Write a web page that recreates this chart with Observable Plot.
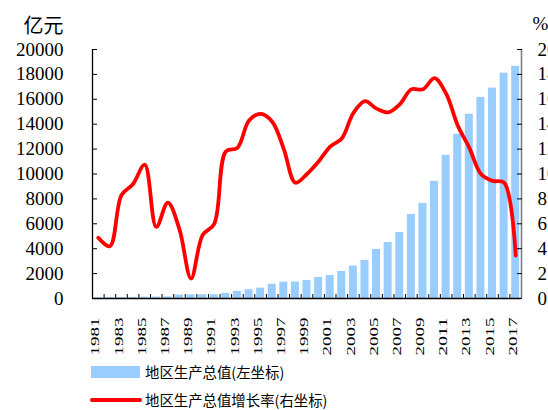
<!DOCTYPE html>
<html><head><meta charset="utf-8">
<script src="https://cdn.jsdelivr.net/npm/d3@7"></script>
<script src="https://cdn.jsdelivr.net/npm/@observablehq/plot@0.6"></script>
<style>
html,body{margin:0;padding:0;background:#fff;overflow:hidden;width:548px;height:410px;}
#chart svg{display:block;overflow:hidden;}
#chart svg text{font-family:"Liberation Serif",serif !important;}
#chart svg g.cjk text{font-family:"Noto Sans CJK SC",sans-serif !important;}
.legend{position:relative;width:548px;height:52px;font-family:"Noto Sans CJK SC",sans-serif;font-size:14.4px;color:#000;}
.row{position:absolute;left:0;height:20px;line-height:20px;display:flex;align-items:center;white-space:nowrap;}
.sw{display:inline-block;width:49px;height:12px;background:#99CCFF;margin-left:91px;margin-right:5px;}
.ln{display:inline-block;width:52px;height:4px;background:#FF0000;border-radius:2px;margin-left:90px;margin-right:3px;}
</style></head><body>
<div id="chart"></div>
<div class="legend">
  <div class="row" style="top:4px"><span class="sw"></span><span>地区生产总值(左坐标)</span></div>
  <div class="row" style="top:32px"><span class="ln"></span><span>地区生产总值增长率(右坐标)</span></div>
</div>
<script>
const years = [1981,1982,1983,1984,1985,1986,1987,1988,1989,1990,1991,1992,1993,1994,1995,1996,1997,1998,1999,2000,2001,2002,2003,2004,2005,2006,2007,2008,2009,2010,2011,2012,2013,2014,2015,2016,2017];
const gdp = [60,65,75,85,100,115,130,280,290,300,300,420,570,700,830,1150,1310,1320,1450,1690,1850,2170,2600,3060,3940,4500,5300,6760,7640,9410,11500,13190,14800,16150,16900,18100,18650];
const rate = [4.88,4.2,8.3,9.2,10.75,5.75,7.7,5.55,1.6,5.1,6.0,11.8,12.1,14.3,14.83,14.2,12.0,9.3,10.0,11.0,12.2,12.85,14.9,15.85,15.25,14.95,15.6,16.8,16.8,17.7,16.45,13.9,12.1,10.0,9.45,9.3,3.45];
const leftTicks = [0,2000,4000,6000,8000,10000,12000,14000,16000,18000,20000];
const labelYears = [1981,1983,1985,1987,1989,1991,1993,1995,1997,1999,2001,2003,2005,2007,2009,2011,2013,2015,2017];

const bars = years.map((year, i) => ({year, gdp: gdp[i]}));
const line = years.map((year, i) => ({year, rate: rate[i]}));
const half = 0.345;
const x0 = years[0] - 0.5, x1 = years[years.length - 1] + 0.5;
const boundaries = years.slice(1).map(y => y - 0.5);

const chart = Plot.plot({
  width: 548, height: 358,
  marginLeft: 92, marginRight: 27, marginTop: 49, marginBottom: 60,
  x: {type: "linear", domain: [x0, x1]},
  y: {domain: [0, 20000]},
  style: {fontSize: "19px", color: "#000", background: "#fff"},
  marks: [
    Plot.rectY(bars, {x1: d => d.year - half, x2: d => d.year + half, y: "gdp", fill: "#99CCFF"}),
    Plot.line(line, {x: "year", y: d => d.rate * 1000, stroke: "#FF0000", strokeWidth: 3.8, curve: "catmull-rom"}),
    Plot.ruleX([x0], {stroke: "#000", strokeWidth: 1.3}),
    Plot.ruleX([x1], {stroke: "#808080", strokeWidth: 1.6}),
    Plot.ruleY([0], {stroke: "#000", strokeWidth: 1.3}),
    Plot.axisY(leftTicks, {anchor: "left", tickSize: 5, dx: 5, fill: "none", label: null}),
    Plot.axisY(leftTicks, {anchor: "left", tickSize: 0, tickPadding: 29, tickFormat: d3.format("d"), label: null, fontSize: 19}),
    Plot.axisY(leftTicks, {anchor: "right", tickSize: 5, dx: -5, fill: "none", label: null}),
    Plot.axisY(leftTicks, {anchor: "right", tickSize: 0, tickPadding: 16, tickFormat: d => String(d / 1000), label: null, fontSize: 19}),
    Plot.axisX(boundaries, {anchor: "bottom", tickSize: 4, dy: -4, fill: "none", label: null}),
    Plot.axisX(labelYears, {anchor: "bottom", tickSize: 0, tickPadding: 19, tickRotate: -90, textAnchor: "end", lineAnchor: "middle", tickFormat: d => String(d), fontSize: 13, dx: -3, label: null, className: "yearlab"}),
    Plot.text(["亿元"], {frameAnchor: "top-left", dx: -29, dy: -31, textAnchor: "end", fontSize: 20, className: "cjk"}),
    Plot.text(["%"], {frameAnchor: "top-right", dx: 11, dy: -33, textAnchor: "start", fontSize: 19})
  ]
});
document.getElementById("chart").appendChild(chart);
let labs = chart.querySelectorAll("g.yearlab text");
if (!labs.length) labs = chart.querySelectorAll('g[aria-label^="x-axis"] text');
labs.forEach(t => {
  t.setAttribute("textLength", "38");
  t.setAttribute("lengthAdjust", "spacingAndGlyphs");
});
</script>
</body></html>
